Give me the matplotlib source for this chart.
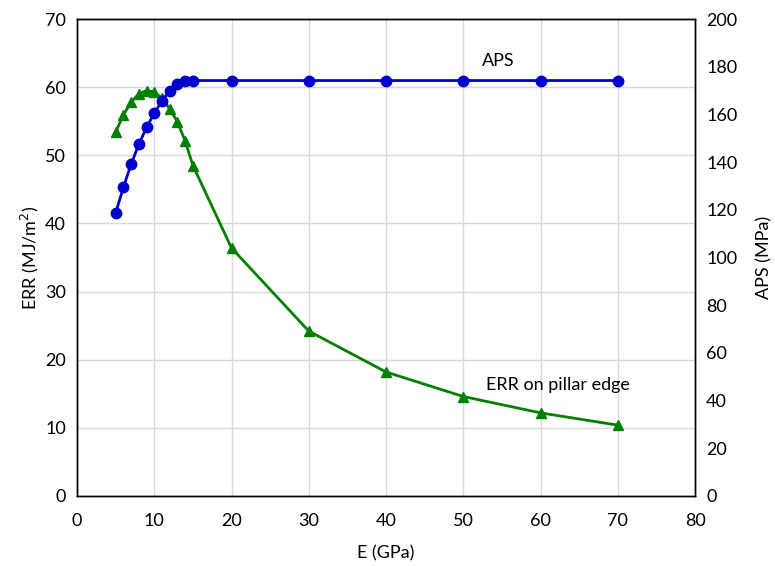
import matplotlib
matplotlib.use("Agg")
import matplotlib.pyplot as plt

plt.rcParams['font.family'] = ['Lato', 'DejaVu Sans']

E_err = [5, 6, 7, 8, 9, 10, 11, 12, 13, 14, 15, 20, 30, 40, 50, 60, 70]
err = [53.4, 55.9, 57.8, 59.0, 59.5, 59.3, 58.4, 56.8, 54.9, 52.1, 48.5, 36.4, 24.2, 18.2, 14.6, 12.2, 10.4]
E_aps = [5, 6, 7, 8, 9, 10, 11, 12, 13, 14, 15, 20, 30, 40, 50, 60, 70]
aps = [118.6, 129.4, 139.1, 147.4, 154.6, 160.4, 165.8, 169.8, 172.7, 174.2, 174.2, 174.2, 174.2, 174.2, 174.2, 174.2, 174.2]
x_ticks = [0, 10, 20, 30, 40, 50, 60, 70, 80]
left_ticks = [0, 10, 20, 30, 40, 50, 60, 70]
right_ticks = [0, 20, 40, 60, 80, 100, 120, 140, 160, 180, 200]

fig = plt.figure(figsize=(7.75, 5.66), dpi=100)
ax = fig.add_axes([77/775, (566-496)/566, 618/775, 477/566])
ax2 = ax.twinx()

green = '#008000'
blue = '#0000CC'
ax.plot(E_err, err, color=green, lw=2, marker='^', ms=7.5, zorder=3)
ax2.plot(E_aps, aps, color=blue, lw=2, marker='o', ms=7.5, zorder=3)

ax.set_xlim(0, 80)
ax.set_ylim(0, 70)
ax2.set_ylim(0, 200)
ax.set_xticks(x_ticks)
ax.set_yticks(left_ticks)
ax2.set_yticks(right_ticks)
ax.grid(True, color='#d9d9d9', lw=1)
ax.set_axisbelow(True)
ax.tick_params(axis='x', length=0, labelsize=13, pad=12, colors='#000000')
ax.tick_params(axis='y', length=0, labelsize=13, pad=8, colors='#000000')
ax2.tick_params(length=0, labelsize=13, pad=8)
for a in (ax, ax2):
    for s in a.spines.values():
        s.set_linewidth(1.0)
        s.set_color('black')

ax.set_xlabel('E (GPa)', fontsize=13, labelpad=12)
ax.set_ylabel('ERR (MJ/m$^2$)', fontsize=13, labelpad=3)
ax2.set_ylabel('APS (MPa)', fontsize=13, labelpad=14)

ax2.text(54.5, 182.5, 'APS', fontsize=13, ha='center', va='center')
ax.text(62.3, 16.3, 'ERR on pillar edge', fontsize=13, ha='center', va='center')

fig.savefig('out.png', dpi=100)
